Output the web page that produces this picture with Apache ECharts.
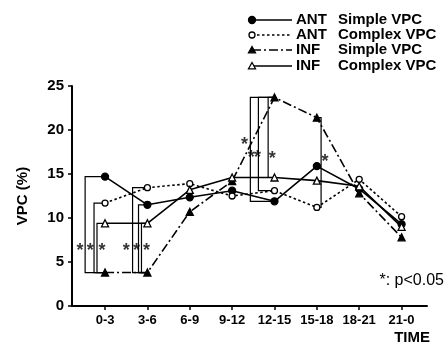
<!DOCTYPE html>
<html><head><meta charset="utf-8">
<script src="https://cdn.jsdelivr.net/npm/echarts@6/dist/echarts.min.js"></script>
<style>html,body{margin:0;padding:0;background:#fff}#c{width:446px;height:345px}</style>
</head><body><div id="c"></div>
<script>
// ---- data ----
var categories = ['0-3','3-6','6-9','9-12','12-15','15-18','18-21','21-0'];
var antSimple  = [14.7, 11.5, 12.35, 13.1, 11.9, 15.9, 13.3, 9.3];
var antComplex = [11.7, 13.45, 13.9, 12.5, 13.1, 11.2, 14.4, 10.15];
var infSimple  = [3.8, 3.8, 10.7, 14.2, 23.7, 21.4, 12.8, 7.8];
var infComplex = [9.4, 9.4, 13.2, 14.6, 14.6, 14.25, 13.6, 9.0];
var yTicks = [0, 5, 10, 15, 20, 25];
var legendGroups = ['ANT', 'ANT', 'INF', 'INF'];
var legendTypes = ['Simple VPC', 'Complex VPC', 'Simple VPC', 'Complex VPC'];
// significance comparisons: [category index, series A, series B]
var comparisons = [
  [0,'antSimple','infSimple'],[0,'antComplex','infSimple'],[0,'infComplex','infSimple'],
  [1,'antComplex','infSimple'],[1,'antSimple','infSimple'],[1,'infComplex','infSimple'],
  [4,'infSimple','antSimple'],[4,'infSimple','antComplex'],[4,'infSimple','infComplex'],
  [5,'infSimple','antComplex']
];
var sigNote = '*: p<0.05';

// ---- layout ----
var seriesMap = {antSimple: antSimple, antComplex: antComplex, infSimple: infSimple, infComplex: infComplex};
var bracketOffsets = [-0.47,-0.26,-0.19, -0.35,-0.21,-0.14, -0.57,-0.38,-0.15, 0.1];
var starPos = [[0,-0.59,6.7],[0,-0.35,6.7],[0,-0.07,6.7],[1,-0.5,6.7],[1,-0.26,6.7],[1,-0.02,6.7],
  [4,-0.71,18.75],[4,-0.55,17.3],[4,-0.4,17.3],[4,-0.05,17.2],[5,0.19,16.8]];
var FONT = '"Liberation Sans", Arial, sans-serif';

var bracketData = comparisons.map(function(c, i){
  var a = seriesMap[c[1]][c[0]], b = seriesMap[c[2]][c[0]];
  return [c[0], a, b, c[0] + bracketOffsets[i]];
});
var starData = starPos.map(function(s){ return [s[0] + s[1], s[2]]; });

var styles = [
  {name: 'ANT Simple VPC', data: antSimple, sym: 'circle', fill: '#000', dash: 'solid', size: 7},
  {name: 'ANT Complex VPC', data: antComplex, sym: 'circle', fill: '#fff', dash: [2.5, 2.5], size: 6},
  {name: 'INF Simple VPC', data: infSimple, sym: 'triangle', fill: '#000', dash: [9, 3, 2, 3], size: 7},
  {name: 'INF Complex VPC', data: infComplex, sym: 'triangle', fill: '#fff', dash: 'solid', size: 7}
];

var lineSeries = styles.map(function(s){
  return {
    type: 'line', name: s.name, z: 5,
    data: s.data.map(function(v, i){ return [i, v]; }),
    symbol: s.sym, symbolSize: s.size, showSymbol: true,
    lineStyle: {color: '#000', width: 1.6, type: s.dash},
    itemStyle: {color: s.fill, borderColor: '#000', borderWidth: 1.3},
    animation: false
  };
});

var chart = echarts.init(document.getElementById('c'), null, {renderer: 'canvas'});

// legend graphics
var legendEls = [];
var rowsY = [20, 35, 50, 66];
styles.forEach(function(s, i){
  var y = rowsY[i];
  legendEls.push({type: 'line', shape: {x1: 252, y1: y, x2: 292, y2: y},
    style: {stroke: '#000', lineWidth: 1.6, lineDash: s.dash === 'solid' ? null : s.dash}});
  if (s.sym === 'circle') {
    legendEls.push({type: 'circle', shape: {cx: 252, cy: y, r: s.size/2},
      style: {fill: s.fill, stroke: '#000', lineWidth: 1.3}});
  } else {
    var h = s.size/2;
    legendEls.push({type: 'polygon', shape: {points: [[252, y-h],[252+h, y+h*0.8],[252-h, y+h*0.8]]},
      style: {fill: s.fill, stroke: '#000', lineWidth: 1.3}});
  }
  legendEls.push({type: 'text', x: 296, y: y, style: {text: legendGroups[i], font: 'bold 15px ' + FONT, fill: '#000', verticalAlign: 'middle'}});
  legendEls.push({type: 'text', x: 338, y: y, style: {text: legendTypes[i], font: 'bold 15px ' + FONT, fill: '#000', verticalAlign: 'middle'}});
});
legendEls.push({type: 'text', x: 444, y: 281, style: {text: sigNote, font: '16px ' + FONT, fill: '#000', align: 'right', verticalAlign: 'middle'}});
legendEls.push({type: 'text', x: 430, y: 338, style: {text: 'TIME', font: 'bold 15px ' + FONT, fill: '#000', align: 'right', verticalAlign: 'middle'}});

chart.setOption({
  animation: false,
  backgroundColor: '#fff',
  grid: {left: 72, right: 19, top: 86, bottom: 39},
  xAxis: {
    type: 'value', min: -0.78, max: 7.6,
    axisLine: {show: true, onZero: false, lineStyle: {color: '#000', width: 2}},
    axisTick: {show: true, customValues: categories.map(function(c, i){ return i; }), length: 4, lineStyle: {color: '#000', width: 1.5}},
    axisLabel: {customValues: categories.map(function(c, i){ return i; }),
      formatter: function(v){ return categories[Math.round(v)]; },
      color: '#000', fontFamily: FONT, fontWeight: 'bold', fontSize: 13, margin: 8},
    splitLine: {show: false}
  },
  yAxis: {
    type: 'value', min: 0, max: 25, interval: 5,
    name: 'VPC (%)', nameLocation: 'middle', nameGap: 42, nameRotate: 90,
    nameTextStyle: {color: '#000', fontFamily: FONT, fontWeight: 'bold', fontSize: 15},
    axisLine: {show: true, onZero: false, lineStyle: {color: '#000', width: 2}},
    axisTick: {show: true, length: 4, lineStyle: {color: '#000', width: 1.5}},
    axisLabel: {color: '#000', fontFamily: FONT, fontWeight: 'bold', fontSize: 15, margin: 8,
      formatter: function(v){ return yTicks.indexOf(v) >= 0 ? String(v) : ''; }},
    splitLine: {show: false}
  },
  graphic: legendEls,
  series: lineSeries.concat([
    {
      type: 'custom', z: 3, data: bracketData,
      renderItem: function(params, api){
        var p1 = api.coord([api.value(0), api.value(1)]);
        var p2 = api.coord([api.value(0), api.value(2)]);
        var bx = api.coord([api.value(3), 0])[0];
        return {type: 'polyline', shape: {points: [[p1[0], p1[1]], [bx, p1[1]], [bx, p2[1]], [p2[0], p2[1]]]},
          style: {stroke: '#000', lineWidth: 1.2, fill: null}};
      },
      animation: false
    },
    {
      type: 'scatter', z: 4, data: starData, symbolSize: 0,
      label: {show: true, position: 'inside', formatter: '*', color: '#000', fontFamily: FONT, fontWeight: 'bold', fontSize: 18, offset: [0, 4]},
      animation: false
    }
  ])
});
</script></body></html>
